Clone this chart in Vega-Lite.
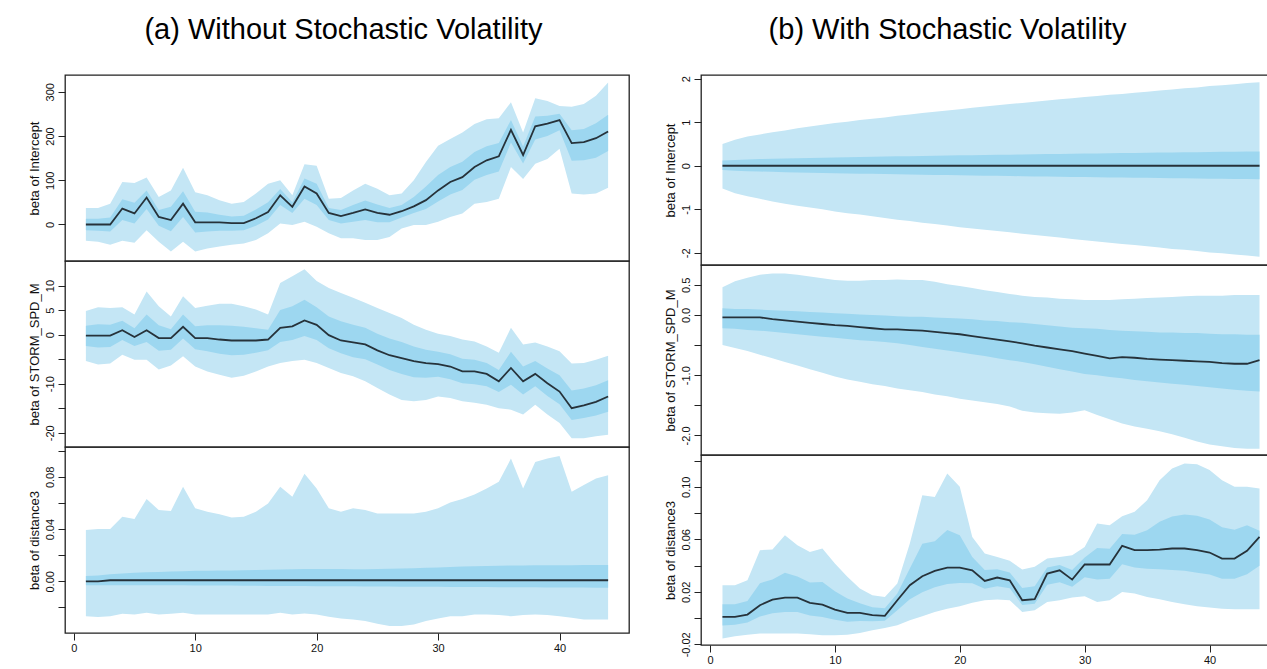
{
  "$schema": "https://vega.github.io/schema/vega-lite/v6.json",
  "padding": {"left": 27, "top": 16, "right": 0, "bottom": 0},
  "background": "white",
  "datasets": {
    "a1": [
      {"x":1,"m":0,"lo":-37,"hi":37,"ilo":-13,"ihi":13},
      {"x":2,"m":0,"lo":-39,"hi":37,"ilo":-14,"ihi":13},
      {"x":3,"m":0,"lo":-46,"hi":47,"ilo":-16,"ihi":16},
      {"x":4,"m":36,"lo":-37,"hi":96,"ilo":10,"ihi":57},
      {"x":5,"m":25,"lo":-41,"hi":94,"ilo":2,"ihi":49},
      {"x":6,"m":61,"lo":-13,"hi":106,"ilo":35,"ihi":77},
      {"x":7,"m":17,"lo":-39,"hi":62,"ilo":-3,"ihi":33},
      {"x":8,"m":10,"lo":-61,"hi":77,"ilo":-15,"ihi":40},
      {"x":9,"m":47,"lo":-39,"hi":128,"ilo":17,"ihi":75},
      {"x":10,"m":5,"lo":-61,"hi":73,"ilo":-18,"ihi":29},
      {"x":11,"m":5,"lo":-54,"hi":66,"ilo":-16,"ihi":27},
      {"x":12,"m":5,"lo":-50,"hi":55,"ilo":-14,"ihi":22},
      {"x":13,"m":3,"lo":-46,"hi":47,"ilo":-14,"ihi":18},
      {"x":14,"m":3,"lo":-43,"hi":51,"ilo":-13,"ihi":20},
      {"x":15,"m":14,"lo":-35,"hi":70,"ilo":-3,"ihi":34},
      {"x":16,"m":28,"lo":-20,"hi":92,"ilo":11,"ihi":50},
      {"x":17,"m":66,"lo":2,"hi":100,"ilo":44,"ihi":80},
      {"x":18,"m":40,"lo":-1,"hi":66,"ilo":26,"ihi":50},
      {"x":19,"m":86,"lo":6,"hi":136,"ilo":58,"ihi":104},
      {"x":20,"m":70,"lo":-5,"hi":133,"ilo":44,"ihi":92},
      {"x":21,"m":26,"lo":-20,"hi":58,"ilo":10,"ihi":37},
      {"x":22,"m":19,"lo":-31,"hi":60,"ilo":2,"ihi":33},
      {"x":23,"m":26,"lo":-31,"hi":77,"ilo":6,"ihi":44},
      {"x":24,"m":34,"lo":-35,"hi":92,"ilo":10,"ihi":54},
      {"x":25,"m":26,"lo":-35,"hi":81,"ilo":5,"ihi":45},
      {"x":26,"m":22,"lo":-28,"hi":66,"ilo":5,"ihi":37},
      {"x":27,"m":30,"lo":-9,"hi":70,"ilo":16,"ihi":44},
      {"x":28,"m":41,"lo":-1,"hi":100,"ilo":26,"ihi":62},
      {"x":29,"m":55,"lo":-1,"hi":141,"ilo":35,"ihi":86},
      {"x":30,"m":77,"lo":6,"hi":178,"ilo":52,"ihi":112},
      {"x":31,"m":96,"lo":17,"hi":193,"ilo":68,"ihi":130},
      {"x":32,"m":107,"lo":25,"hi":208,"ilo":78,"ihi":142},
      {"x":33,"m":130,"lo":47,"hi":227,"ilo":101,"ihi":164},
      {"x":34,"m":145,"lo":51,"hi":238,"ilo":112,"ihi":177},
      {"x":35,"m":154,"lo":58,"hi":240,"ilo":120,"ihi":184},
      {"x":36,"m":214,"lo":130,"hi":276,"ilo":185,"ihi":236},
      {"x":37,"m":157,"lo":103,"hi":208,"ilo":138,"ihi":176},
      {"x":38,"m":222,"lo":137,"hi":285,"ilo":192,"ihi":244},
      {"x":39,"m":228,"lo":148,"hi":279,"ilo":200,"ihi":246},
      {"x":40,"m":236,"lo":171,"hi":268,"ilo":213,"ihi":250},
      {"x":41,"m":184,"lo":70,"hi":266,"ilo":144,"ihi":213},
      {"x":42,"m":186,"lo":68,"hi":272,"ilo":145,"ihi":216},
      {"x":43,"m":195,"lo":70,"hi":291,"ilo":151,"ihi":229},
      {"x":44,"m":210,"lo":83,"hi":321,"ilo":166,"ihi":248}
    ],
    "a2": [
      {"x":1,"m":-0.2,"lo":-5.4,"hi":4.8,"ilo":-2.3,"ihi":1.8},
      {"x":2,"m":-0.2,"lo":-6.1,"hi":5.6,"ilo":-2.6,"ihi":2.1},
      {"x":3,"m":-0.2,"lo":-5.9,"hi":5.4,"ilo":-2.5,"ihi":2.0},
      {"x":4,"m":0.9,"lo":-4.1,"hi":5.6,"ilo":-1.1,"ihi":2.8},
      {"x":5,"m":-0.5,"lo":-5.1,"hi":4.1,"ilo":-2.3,"ihi":1.3},
      {"x":6,"m":0.9,"lo":-5.1,"hi":8.8,"ilo":-1.5,"ihi":4.1},
      {"x":7,"m":-0.7,"lo":-7.1,"hi":5.8,"ilo":-3.3,"ihi":1.9},
      {"x":8,"m":-0.7,"lo":-6.3,"hi":3.7,"ilo":-3.1,"ihi":1.1},
      {"x":9,"m":1.6,"lo":-4.4,"hi":7.8,"ilo":-0.8,"ihi":4.1},
      {"x":10,"m":-0.7,"lo":-6.5,"hi":5.4,"ilo":-3.0,"ihi":1.7},
      {"x":11,"m":-0.7,"lo":-7.5,"hi":5.9,"ilo":-3.4,"ihi":1.9},
      {"x":12,"m":-1.0,"lo":-8.2,"hi":6.3,"ilo":-3.9,"ihi":1.9},
      {"x":13,"m":-1.2,"lo":-8.8,"hi":6.3,"ilo":-4.2,"ihi":1.8},
      {"x":14,"m":-1.2,"lo":-8.4,"hi":5.8,"ilo":-4.1,"ihi":1.6},
      {"x":15,"m":-1.2,"lo":-7.5,"hi":5.1,"ilo":-3.7,"ihi":1.3},
      {"x":16,"m":-1.0,"lo":-6.5,"hi":4.1,"ilo":-3.2,"ihi":1.0},
      {"x":17,"m":1.4,"lo":-5.8,"hi":10.5,"ilo":-1.5,"ihi":5.0},
      {"x":18,"m":1.7,"lo":-5.4,"hi":11.9,"ilo":-1.1,"ihi":5.8},
      {"x":19,"m":2.9,"lo":-5.1,"hi":13.3,"ilo":-0.3,"ihi":7.1},
      {"x":20,"m":2.0,"lo":-5.8,"hi":10.9,"ilo":-1.1,"ihi":5.6},
      {"x":21,"m":-0.1,"lo":-6.8,"hi":9.5,"ilo":-2.8,"ihi":3.7},
      {"x":22,"m":-1.2,"lo":-7.8,"hi":8.5,"ilo":-3.8,"ihi":2.7},
      {"x":23,"m":-1.6,"lo":-8.5,"hi":7.5,"ilo":-4.6,"ihi":2.0},
      {"x":24,"m":-2.0,"lo":-9.5,"hi":6.5,"ilo":-5.0,"ihi":1.4},
      {"x":25,"m":-3.2,"lo":-10.9,"hi":5.4,"ilo":-6.1,"ihi":0.2},
      {"x":26,"m":-4.2,"lo":-12.2,"hi":4.4,"ilo":-7.2,"ihi":-0.8},
      {"x":27,"m":-4.8,"lo":-13.3,"hi":3.4,"ilo":-8.0,"ihi":-1.5},
      {"x":28,"m":-5.4,"lo":-13.6,"hi":2.0,"ilo":-8.7,"ihi":-2.4},
      {"x":29,"m":-5.8,"lo":-13.3,"hi":1.0,"ilo":-8.8,"ihi":-3.1},
      {"x":30,"m":-6.0,"lo":-12.6,"hi":0.2,"ilo":-8.6,"ihi":-3.5},
      {"x":31,"m":-6.5,"lo":-12.9,"hi":-0.3,"ilo":-9.1,"ihi":-4.0},
      {"x":32,"m":-7.5,"lo":-13.6,"hi":-1.0,"ilo":-9.9,"ihi":-4.9},
      {"x":33,"m":-7.5,"lo":-13.9,"hi":-1.4,"ilo":-10.1,"ihi":-5.1},
      {"x":34,"m":-8.0,"lo":-14.3,"hi":-2.4,"ilo":-10.5,"ihi":-5.8},
      {"x":35,"m":-9.5,"lo":-15.0,"hi":-3.7,"ilo":-11.7,"ihi":-7.2},
      {"x":36,"m":-6.8,"lo":-15.3,"hi":1.4,"ilo":-10.2,"ihi":-3.5},
      {"x":37,"m":-9.5,"lo":-16.3,"hi":-2.0,"ilo":-12.2,"ihi":-6.5},
      {"x":38,"m":-8.0,"lo":-14.3,"hi":-1.6,"ilo":-10.5,"ihi":-5.4},
      {"x":39,"m":-9.9,"lo":-16.3,"hi":-2.4,"ilo":-12.5,"ihi":-6.9},
      {"x":40,"m":-11.6,"lo":-18.0,"hi":-3.4,"ilo":-14.2,"ihi":-8.3},
      {"x":41,"m":-15.0,"lo":-21.1,"hi":-5.9,"ilo":-17.4,"ihi":-11.4},
      {"x":42,"m":-14.4,"lo":-21.1,"hi":-5.8,"ilo":-17.0,"ihi":-11.0},
      {"x":43,"m":-13.7,"lo":-20.7,"hi":-5.1,"ilo":-16.5,"ihi":-10.3},
      {"x":44,"m":-12.6,"lo":-20.4,"hi":-4.3,"ilo":-15.7,"ihi":-9.3}
    ],
    "a3": [
      {"x":1,"m":0.0,"lo":-0.0267,"hi":0.0394,"ilo":-0.003,"ihi":0.004},
      {"x":2,"m":0.0,"lo":-0.0274,"hi":0.040,"ilo":-0.003,"ihi":0.0045},
      {"x":3,"m":0.0008,"lo":-0.0267,"hi":0.040,"ilo":-0.003,"ihi":0.0055},
      {"x":4,"m":0.0008,"lo":-0.0249,"hi":0.0495,"ilo":-0.003,"ihi":0.006},
      {"x":5,"m":0.0008,"lo":-0.0254,"hi":0.0478,"ilo":-0.003,"ihi":0.0065},
      {"x":6,"m":0.0008,"lo":-0.0241,"hi":0.063,"ilo":-0.003,"ihi":0.007},
      {"x":7,"m":0.0008,"lo":-0.0254,"hi":0.0546,"ilo":-0.003,"ihi":0.0072},
      {"x":8,"m":0.0008,"lo":-0.0249,"hi":0.0538,"ilo":-0.003,"ihi":0.0075},
      {"x":9,"m":0.0008,"lo":-0.0241,"hi":0.0724,"ilo":-0.003,"ihi":0.0078},
      {"x":10,"m":0.0008,"lo":-0.0254,"hi":0.0559,"ilo":-0.0032,"ihi":0.008},
      {"x":11,"m":0.0008,"lo":-0.0254,"hi":0.0533,"ilo":-0.0032,"ihi":0.008},
      {"x":12,"m":0.0008,"lo":-0.0254,"hi":0.0513,"ilo":-0.0033,"ihi":0.0082},
      {"x":13,"m":0.0008,"lo":-0.0254,"hi":0.0488,"ilo":-0.0033,"ihi":0.0083},
      {"x":14,"m":0.0008,"lo":-0.0254,"hi":0.0495,"ilo":-0.0034,"ihi":0.0085},
      {"x":15,"m":0.0008,"lo":-0.0254,"hi":0.0533,"ilo":-0.0034,"ihi":0.0087},
      {"x":16,"m":0.0008,"lo":-0.0254,"hi":0.0597,"ilo":-0.0035,"ihi":0.0089},
      {"x":17,"m":0.0008,"lo":-0.0241,"hi":0.0724,"ilo":-0.0035,"ihi":0.009},
      {"x":18,"m":0.0008,"lo":-0.0254,"hi":0.0648,"ilo":-0.0036,"ihi":0.0092},
      {"x":19,"m":0.0008,"lo":-0.0246,"hi":0.0825,"ilo":-0.0036,"ihi":0.0094},
      {"x":20,"m":0.0008,"lo":-0.0254,"hi":0.0711,"ilo":-0.0037,"ihi":0.0095},
      {"x":21,"m":0.0008,"lo":-0.0272,"hi":0.0559,"ilo":-0.0037,"ihi":0.0095},
      {"x":22,"m":0.0008,"lo":-0.0284,"hi":0.0533,"ilo":-0.0038,"ihi":0.0094},
      {"x":23,"m":0.0008,"lo":-0.0292,"hi":0.0559,"ilo":-0.0038,"ihi":0.0093},
      {"x":24,"m":0.0008,"lo":-0.0305,"hi":0.0546,"ilo":-0.0039,"ihi":0.0093},
      {"x":25,"m":0.0008,"lo":-0.0325,"hi":0.052,"ilo":-0.004,"ihi":0.0094},
      {"x":26,"m":0.0008,"lo":-0.0343,"hi":0.052,"ilo":-0.004,"ihi":0.0096},
      {"x":27,"m":0.0008,"lo":-0.0343,"hi":0.052,"ilo":-0.0041,"ihi":0.0098},
      {"x":28,"m":0.0008,"lo":-0.033,"hi":0.052,"ilo":-0.0041,"ihi":0.01},
      {"x":29,"m":0.0008,"lo":-0.0305,"hi":0.0533,"ilo":-0.0042,"ihi":0.0103},
      {"x":30,"m":0.0008,"lo":-0.0284,"hi":0.0559,"ilo":-0.0042,"ihi":0.0106},
      {"x":31,"m":0.0008,"lo":-0.0267,"hi":0.0604,"ilo":-0.0043,"ihi":0.011},
      {"x":32,"m":0.0008,"lo":-0.0267,"hi":0.063,"ilo":-0.0043,"ihi":0.0113},
      {"x":33,"m":0.0008,"lo":-0.0254,"hi":0.0665,"ilo":-0.0044,"ihi":0.0116},
      {"x":34,"m":0.0008,"lo":-0.0254,"hi":0.0711,"ilo":-0.0044,"ihi":0.0118},
      {"x":35,"m":0.0008,"lo":-0.0259,"hi":0.0762,"ilo":-0.0045,"ihi":0.012},
      {"x":36,"m":0.0008,"lo":-0.0267,"hi":0.094,"ilo":-0.0045,"ihi":0.0122},
      {"x":37,"m":0.0008,"lo":-0.0259,"hi":0.0711,"ilo":-0.0046,"ihi":0.0122},
      {"x":38,"m":0.0008,"lo":-0.0254,"hi":0.0914,"ilo":-0.0046,"ihi":0.0123},
      {"x":39,"m":0.0008,"lo":-0.0259,"hi":0.094,"ilo":-0.0047,"ihi":0.0124},
      {"x":40,"m":0.0008,"lo":-0.0267,"hi":0.096,"ilo":-0.0047,"ihi":0.0124},
      {"x":41,"m":0.0008,"lo":-0.0279,"hi":0.0686,"ilo":-0.0048,"ihi":0.0124},
      {"x":42,"m":0.0008,"lo":-0.0292,"hi":0.0737,"ilo":-0.0048,"ihi":0.0125},
      {"x":43,"m":0.0008,"lo":-0.0292,"hi":0.0787,"ilo":-0.0049,"ihi":0.0125},
      {"x":44,"m":0.0008,"lo":-0.0292,"hi":0.0813,"ilo":-0.005,"ihi":0.0125}
    ],
    "b1": [
      {"x":1,"m":0,"lo":-0.52,"hi":0.50,"ilo":-0.1,"ihi":0.12},
      {"x":2,"m":0,"lo":-0.63,"hi":0.60,"ilo":-0.115,"ihi":0.135},
      {"x":3,"m":0,"lo":-0.70,"hi":0.67,"ilo":-0.125,"ihi":0.145},
      {"x":4,"m":0,"lo":-0.76,"hi":0.72,"ilo":-0.133,"ihi":0.153},
      {"x":5,"m":0,"lo":-0.82,"hi":0.77,"ilo":-0.14,"ihi":0.16},
      {"x":6,"m":0,"lo":-0.87,"hi":0.81,"ilo":-0.147,"ihi":0.167},
      {"x":7,"m":0,"lo":-0.92,"hi":0.86,"ilo":-0.153,"ihi":0.173},
      {"x":8,"m":0,"lo":-0.96,"hi":0.90,"ilo":-0.159,"ihi":0.179},
      {"x":9,"m":0,"lo":-1.00,"hi":0.94,"ilo":-0.165,"ihi":0.185},
      {"x":10,"m":0,"lo":-1.05,"hi":0.98,"ilo":-0.17,"ihi":0.19},
      {"x":11,"m":0,"lo":-1.09,"hi":1.01,"ilo":-0.176,"ihi":0.196},
      {"x":12,"m":0,"lo":-1.12,"hi":1.05,"ilo":-0.181,"ihi":0.201},
      {"x":13,"m":0,"lo":-1.16,"hi":1.08,"ilo":-0.186,"ihi":0.206},
      {"x":14,"m":0,"lo":-1.20,"hi":1.11,"ilo":-0.191,"ihi":0.211},
      {"x":15,"m":0,"lo":-1.24,"hi":1.15,"ilo":-0.196,"ihi":0.216},
      {"x":16,"m":0,"lo":-1.27,"hi":1.18,"ilo":-0.2,"ihi":0.22},
      {"x":17,"m":0,"lo":-1.31,"hi":1.21,"ilo":-0.205,"ihi":0.225},
      {"x":18,"m":0,"lo":-1.34,"hi":1.24,"ilo":-0.21,"ihi":0.23},
      {"x":19,"m":0,"lo":-1.37,"hi":1.27,"ilo":-0.214,"ihi":0.234},
      {"x":20,"m":0,"lo":-1.41,"hi":1.30,"ilo":-0.219,"ihi":0.239},
      {"x":21,"m":0,"lo":-1.44,"hi":1.33,"ilo":-0.223,"ihi":0.243},
      {"x":22,"m":0,"lo":-1.47,"hi":1.36,"ilo":-0.227,"ihi":0.247},
      {"x":23,"m":0,"lo":-1.50,"hi":1.39,"ilo":-0.231,"ihi":0.251},
      {"x":24,"m":0,"lo":-1.53,"hi":1.42,"ilo":-0.235,"ihi":0.255},
      {"x":25,"m":0,"lo":-1.56,"hi":1.44,"ilo":-0.24,"ihi":0.26},
      {"x":26,"m":0,"lo":-1.59,"hi":1.47,"ilo":-0.244,"ihi":0.264},
      {"x":27,"m":0,"lo":-1.62,"hi":1.50,"ilo":-0.248,"ihi":0.268},
      {"x":28,"m":0,"lo":-1.65,"hi":1.53,"ilo":-0.252,"ihi":0.272},
      {"x":29,"m":0,"lo":-1.68,"hi":1.55,"ilo":-0.256,"ihi":0.276},
      {"x":30,"m":0,"lo":-1.71,"hi":1.58,"ilo":-0.259,"ihi":0.279},
      {"x":31,"m":0,"lo":-1.74,"hi":1.60,"ilo":-0.263,"ihi":0.283},
      {"x":32,"m":0,"lo":-1.77,"hi":1.63,"ilo":-0.267,"ihi":0.287},
      {"x":33,"m":0,"lo":-1.80,"hi":1.65,"ilo":-0.271,"ihi":0.291},
      {"x":34,"m":0,"lo":-1.82,"hi":1.68,"ilo":-0.275,"ihi":0.295},
      {"x":35,"m":0,"lo":-1.85,"hi":1.70,"ilo":-0.278,"ihi":0.298},
      {"x":36,"m":0,"lo":-1.88,"hi":1.73,"ilo":-0.282,"ihi":0.302},
      {"x":37,"m":0,"lo":-1.91,"hi":1.75,"ilo":-0.285,"ihi":0.305},
      {"x":38,"m":0,"lo":-1.93,"hi":1.78,"ilo":-0.289,"ihi":0.309},
      {"x":39,"m":0,"lo":-1.96,"hi":1.80,"ilo":-0.293,"ihi":0.313},
      {"x":40,"m":0,"lo":-1.99,"hi":1.83,"ilo":-0.296,"ihi":0.316},
      {"x":41,"m":0,"lo":-2.01,"hi":1.85,"ilo":-0.3,"ihi":0.32},
      {"x":42,"m":0,"lo":-2.04,"hi":1.87,"ilo":-0.303,"ihi":0.323},
      {"x":43,"m":0,"lo":-2.06,"hi":1.90,"ilo":-0.307,"ihi":0.327},
      {"x":44,"m":0,"lo":-2.09,"hi":1.92,"ilo":-0.31,"ihi":0.33}
    ],
    "b2": [
      {"x":1,"m":-0.04,"lo":-0.50,"hi":0.46,"ilo":-0.22,"ihi":0.11},
      {"x":2,"m":-0.04,"lo":-0.55,"hi":0.56,"ilo":-0.23,"ihi":0.10},
      {"x":3,"m":-0.04,"lo":-0.60,"hi":0.62,"ilo":-0.25,"ihi":0.10},
      {"x":4,"m":-0.04,"lo":-0.66,"hi":0.67,"ilo":-0.26,"ihi":0.09},
      {"x":5,"m":-0.07,"lo":-0.72,"hi":0.69,"ilo":-0.28,"ihi":0.08},
      {"x":6,"m":-0.09,"lo":-0.78,"hi":0.69,"ilo":-0.30,"ihi":0.07},
      {"x":7,"m":-0.11,"lo":-0.84,"hi":0.67,"ilo":-0.32,"ihi":0.06},
      {"x":8,"m":-0.13,"lo":-0.90,"hi":0.64,"ilo":-0.34,"ihi":0.05},
      {"x":9,"m":-0.15,"lo":-0.96,"hi":0.61,"ilo":-0.36,"ihi":0.04},
      {"x":10,"m":-0.17,"lo":-1.02,"hi":0.58,"ilo":-0.38,"ihi":0.03},
      {"x":11,"m":-0.18,"lo":-1.07,"hi":0.57,"ilo":-0.40,"ihi":0.02},
      {"x":12,"m":-0.20,"lo":-1.11,"hi":0.57,"ilo":-0.42,"ihi":0.01},
      {"x":13,"m":-0.22,"lo":-1.15,"hi":0.58,"ilo":-0.43,"ihi":0.00},
      {"x":14,"m":-0.24,"lo":-1.18,"hi":0.58,"ilo":-0.45,"ihi":-0.01},
      {"x":15,"m":-0.24,"lo":-1.22,"hi":0.59,"ilo":-0.47,"ihi":-0.02},
      {"x":16,"m":-0.25,"lo":-1.25,"hi":0.58,"ilo":-0.50,"ihi":-0.03},
      {"x":17,"m":-0.26,"lo":-1.28,"hi":0.58,"ilo":-0.53,"ihi":-0.03},
      {"x":18,"m":-0.28,"lo":-1.32,"hi":0.55,"ilo":-0.56,"ihi":-0.04},
      {"x":19,"m":-0.30,"lo":-1.35,"hi":0.51,"ilo":-0.59,"ihi":-0.05},
      {"x":20,"m":-0.32,"lo":-1.39,"hi":0.48,"ilo":-0.62,"ihi":-0.06},
      {"x":21,"m":-0.35,"lo":-1.42,"hi":0.45,"ilo":-0.65,"ihi":-0.07},
      {"x":22,"m":-0.38,"lo":-1.45,"hi":0.41,"ilo":-0.68,"ihi":-0.09},
      {"x":23,"m":-0.41,"lo":-1.48,"hi":0.38,"ilo":-0.72,"ihi":-0.10},
      {"x":24,"m":-0.44,"lo":-1.52,"hi":0.35,"ilo":-0.75,"ihi":-0.12},
      {"x":25,"m":-0.47,"lo":-1.59,"hi":0.32,"ilo":-0.78,"ihi":-0.13},
      {"x":26,"m":-0.51,"lo":-1.62,"hi":0.30,"ilo":-0.82,"ihi":-0.15},
      {"x":27,"m":-0.54,"lo":-1.63,"hi":0.29,"ilo":-0.86,"ihi":-0.17},
      {"x":28,"m":-0.57,"lo":-1.64,"hi":0.27,"ilo":-0.90,"ihi":-0.19},
      {"x":29,"m":-0.60,"lo":-1.62,"hi":0.26,"ilo":-0.94,"ihi":-0.21},
      {"x":30,"m":-0.64,"lo":-1.58,"hi":0.25,"ilo":-0.98,"ihi":-0.22},
      {"x":31,"m":-0.68,"lo":-1.66,"hi":0.25,"ilo":-1.00,"ihi":-0.23},
      {"x":32,"m":-0.72,"lo":-1.73,"hi":0.25,"ilo":-1.03,"ihi":-0.25},
      {"x":33,"m":-0.70,"lo":-1.80,"hi":0.26,"ilo":-1.05,"ihi":-0.26},
      {"x":34,"m":-0.71,"lo":-1.85,"hi":0.27,"ilo":-1.08,"ihi":-0.27},
      {"x":35,"m":-0.73,"lo":-1.89,"hi":0.28,"ilo":-1.10,"ihi":-0.28},
      {"x":36,"m":-0.74,"lo":-1.93,"hi":0.29,"ilo":-1.12,"ihi":-0.29},
      {"x":37,"m":-0.75,"lo":-1.98,"hi":0.30,"ilo":-1.14,"ihi":-0.29},
      {"x":38,"m":-0.76,"lo":-2.04,"hi":0.31,"ilo":-1.16,"ihi":-0.30},
      {"x":39,"m":-0.77,"lo":-2.10,"hi":0.32,"ilo":-1.18,"ihi":-0.30},
      {"x":40,"m":-0.78,"lo":-2.15,"hi":0.32,"ilo":-1.20,"ihi":-0.31},
      {"x":41,"m":-0.80,"lo":-2.18,"hi":0.32,"ilo":-1.22,"ihi":-0.32},
      {"x":42,"m":-0.81,"lo":-2.21,"hi":0.33,"ilo":-1.24,"ihi":-0.32},
      {"x":43,"m":-0.81,"lo":-2.22,"hi":0.33,"ilo":-1.26,"ihi":-0.33},
      {"x":44,"m":-0.75,"lo":-2.22,"hi":0.33,"ilo":-1.27,"ihi":-0.33}
    ],
    "b3": [
      {"x":1,"m":0.0009,"lo":-0.0156,"hi":0.025,"ilo":-0.0057,"ihi":0.0105},
      {"x":2,"m":0.0009,"lo":-0.0138,"hi":0.025,"ilo":-0.005,"ihi":0.0105},
      {"x":3,"m":0.0027,"lo":-0.0126,"hi":0.0288,"ilo":-0.0034,"ihi":0.0131},
      {"x":4,"m":0.0098,"lo":-0.0118,"hi":0.0517,"ilo":0.0012,"ihi":0.0266},
      {"x":5,"m":0.0141,"lo":-0.0118,"hi":0.0522,"ilo":0.0037,"ihi":0.0293},
      {"x":6,"m":0.0156,"lo":-0.0118,"hi":0.0631,"ilo":0.0046,"ihi":0.0346},
      {"x":7,"m":0.0156,"lo":-0.0118,"hi":0.0555,"ilo":0.0046,"ihi":0.0316},
      {"x":8,"m":0.0116,"lo":-0.0123,"hi":0.0504,"ilo":0.002,"ihi":0.0271},
      {"x":9,"m":0.0103,"lo":-0.0131,"hi":0.053,"ilo":0.0009,"ihi":0.0274},
      {"x":10,"m":0.0065,"lo":-0.0131,"hi":0.0415,"ilo":-0.0013,"ihi":0.0205},
      {"x":11,"m":0.0039,"lo":-0.0126,"hi":0.0314,"ilo":-0.0027,"ihi":0.0149},
      {"x":12,"m":0.0039,"lo":-0.0113,"hi":0.0225,"ilo":-0.0022,"ihi":0.0113},
      {"x":13,"m":0.0022,"lo":-0.0093,"hi":0.0174,"ilo":-0.0024,"ihi":0.0083},
      {"x":14,"m":0.0017,"lo":-0.0075,"hi":0.0161,"ilo":-0.002,"ihi":0.0075},
      {"x":15,"m":0.0136,"lo":-0.0055,"hi":0.0263,"ilo":0.006,"ihi":0.0187},
      {"x":16,"m":0.025,"lo":-0.0017,"hi":0.0568,"ilo":0.0143,"ihi":0.0377},
      {"x":17,"m":0.0319,"lo":0.0014,"hi":0.0936,"ilo":0.0197,"ihi":0.0566},
      {"x":18,"m":0.036,"lo":0.0047,"hi":0.0923,"ilo":0.0235,"ihi":0.0585},
      {"x":19,"m":0.0385,"lo":0.0072,"hi":0.1101,"ilo":0.026,"ihi":0.0671},
      {"x":20,"m":0.0385,"lo":0.009,"hi":0.1,"ilo":0.0267,"ihi":0.0631},
      {"x":21,"m":0.0364,"lo":0.0116,"hi":0.0618,"ilo":0.0265,"ihi":0.0466},
      {"x":22,"m":0.0283,"lo":0.0136,"hi":0.0491,"ilo":0.0224,"ihi":0.0366},
      {"x":23,"m":0.0309,"lo":0.0141,"hi":0.0466,"ilo":0.0242,"ihi":0.0372},
      {"x":24,"m":0.0288,"lo":0.0136,"hi":0.0436,"ilo":0.0227,"ihi":0.0347},
      {"x":25,"m":0.0136,"lo":0.0047,"hi":0.037,"ilo":0.01,"ihi":0.023},
      {"x":26,"m":0.0144,"lo":0.006,"hi":0.039,"ilo":0.011,"ihi":0.0242},
      {"x":27,"m":0.0339,"lo":0.0123,"hi":0.0453,"ilo":0.0253,"ihi":0.0385},
      {"x":28,"m":0.0364,"lo":0.0136,"hi":0.0466,"ilo":0.0273,"ihi":0.0405},
      {"x":29,"m":0.0293,"lo":0.0156,"hi":0.0479,"ilo":0.0238,"ihi":0.0367},
      {"x":30,"m":0.0408,"lo":0.0166,"hi":0.0542,"ilo":0.0311,"ihi":0.0462},
      {"x":31,"m":0.0408,"lo":0.0123,"hi":0.072,"ilo":0.0294,"ihi":0.0533},
      {"x":32,"m":0.0408,"lo":0.0136,"hi":0.0707,"ilo":0.0299,"ihi":0.0528},
      {"x":33,"m":0.055,"lo":0.0199,"hi":0.0776,"ilo":0.041,"ihi":0.064},
      {"x":34,"m":0.0517,"lo":0.0187,"hi":0.0809,"ilo":0.0385,"ihi":0.0634},
      {"x":35,"m":0.0517,"lo":0.0161,"hi":0.0898,"ilo":0.0375,"ihi":0.0669},
      {"x":36,"m":0.0522,"lo":0.0144,"hi":0.105,"ilo":0.0371,"ihi":0.0733},
      {"x":37,"m":0.053,"lo":0.0123,"hi":0.1139,"ilo":0.0367,"ihi":0.0774},
      {"x":38,"m":0.053,"lo":0.0105,"hi":0.1177,"ilo":0.036,"ihi":0.0789},
      {"x":39,"m":0.0517,"lo":0.009,"hi":0.1172,"ilo":0.0346,"ihi":0.0779},
      {"x":40,"m":0.0499,"lo":0.008,"hi":0.1127,"ilo":0.0331,"ihi":0.075},
      {"x":41,"m":0.0453,"lo":0.0072,"hi":0.105,"ilo":0.03,"ihi":0.0692},
      {"x":42,"m":0.0453,"lo":0.0067,"hi":0.1,"ilo":0.0299,"ihi":0.0672},
      {"x":43,"m":0.0512,"lo":0.0067,"hi":0.1,"ilo":0.0334,"ihi":0.0707},
      {"x":44,"m":0.0618,"lo":0.0067,"hi":0.0987,"ilo":0.0398,"ihi":0.0666}
    ]
  },
  "hconcat": [
    {
      "title": {"text": "(a) Without Stochastic Volatility", "offset": 29, "dx": 15},
      "spacing": 0,
      "bounds": "flush",
      "vconcat": [
        {
          "width": 564, "height": 186, "data": {"name": "a1"},
          "encoding": {"x": {"field": "x", "type": "quantitative", "scale": {"domain": [-0.72, 45.72], "nice": false, "zero": false}, "axis": null}},
          "layer": [
            {"mark": {"type": "area", "color": "#c4e6f5", "opacity": 1}, "encoding": {"y": {"field": "lo", "type": "quantitative", "scale": {"domain": [-82.5, 337.8], "nice": false, "zero": false}, "axis": {"title": "beta of Intercept", "values": [0, 100, 200, 300]}}, "y2": {"field": "hi"}}},
            {"mark": {"type": "area", "color": "#9dd7f0", "opacity": 1}, "encoding": {"y": {"field": "ilo", "type": "quantitative"}, "y2": {"field": "ihi"}}},
            {"mark": {"type": "rule", "color": "#aaaaaa", "strokeDash": [4, 4], "strokeWidth": 1}, "encoding": {"y": {"datum": 0}}},
            {"mark": {"type": "line", "color": "#26323a", "strokeWidth": 1.8}, "encoding": {"y": {"field": "m", "type": "quantitative"}}}
          ]
        },
        {
          "width": 564, "height": 186, "data": {"name": "a2"},
          "encoding": {"x": {"field": "x", "type": "quantitative", "scale": {"domain": [-0.72, 45.72], "nice": false, "zero": false}, "axis": null}},
          "layer": [
            {"mark": {"type": "area", "color": "#c4e6f5", "opacity": 1}, "encoding": {"y": {"field": "lo", "type": "quantitative", "scale": {"domain": [-22.9, 15.0], "nice": false, "zero": false}, "axis": {"title": "beta of STORM_SPD_M", "values": [-20, -15, -10, -5, 0, 5, 10], "labelExpr": "datum.value == -5 || datum.value == -15 ? '' : (datum.value < 0 ? '-' + format(-datum.value, 'd') : format(datum.value, 'd'))"}}, "y2": {"field": "hi"}}},
            {"mark": {"type": "area", "color": "#9dd7f0", "opacity": 1}, "encoding": {"y": {"field": "ilo", "type": "quantitative"}, "y2": {"field": "ihi"}}},
            {"mark": {"type": "rule", "color": "#aaaaaa", "strokeDash": [4, 4], "strokeWidth": 1}, "encoding": {"y": {"datum": 0}}},
            {"mark": {"type": "line", "color": "#26323a", "strokeWidth": 1.8}, "encoding": {"y": {"field": "m", "type": "quantitative"}}}
          ]
        },
        {
          "width": 564, "height": 186, "data": {"name": "a3"},
          "encoding": {"x": {"field": "x", "type": "quantitative", "scale": {"domain": [-0.72, 45.72], "nice": false, "zero": false}, "axis": {"title": null, "values": [0, 10, 20, 30, 40]}}},
          "layer": [
            {"mark": {"type": "area", "color": "#c4e6f5", "opacity": 1}, "encoding": {"y": {"field": "lo", "type": "quantitative", "scale": {"domain": [-0.0396, 0.1029], "nice": false, "zero": false}, "axis": {"title": "beta of distance3", "values": [-0.04, -0.02, 0, 0.02, 0.04, 0.06, 0.08, 0.1], "labelExpr": "abs(round(datum.value * 100)) % 4 != 0 ? '' : (datum.value < 0 ? '-' + format(-datum.value, '.2f') : format(datum.value, '.2f'))"}}, "y2": {"field": "hi"}}},
            {"mark": {"type": "area", "color": "#9dd7f0", "opacity": 1}, "encoding": {"y": {"field": "ilo", "type": "quantitative"}, "y2": {"field": "ihi"}}},
            {"mark": {"type": "rule", "color": "#aaaaaa", "strokeDash": [4, 4], "strokeWidth": 1}, "encoding": {"y": {"datum": 0}}},
            {"mark": {"type": "line", "color": "#26323a", "strokeWidth": 1.8}, "encoding": {"y": {"field": "m", "type": "quantitative"}}}
          ]
        }
      ]
    },
    {
      "title": {"text": "(b) With Stochastic Volatility", "offset": 29, "dx": -25},
      "spacing": 0,
      "bounds": "flush",
      "vconcat": [
        {
          "width": 580, "height": 190, "data": {"name": "b1"},
          "encoding": {"x": {"field": "x", "type": "quantitative", "scale": {"domain": [-0.72, 45.72], "nice": false, "zero": false}, "axis": null}},
          "layer": [
            {"mark": {"type": "area", "color": "#c4e6f5", "opacity": 1}, "encoding": {"y": {"field": "lo", "type": "quantitative", "scale": {"domain": [-2.28, 2.085], "nice": false, "zero": false}, "axis": {"title": "beta of Intercept", "values": [-2, -1, 0, 1, 2], "labelExpr": "datum.value < 0 ? '-' + format(-datum.value, 'd') : format(datum.value, 'd')"}}, "y2": {"field": "hi"}}},
            {"mark": {"type": "area", "color": "#9dd7f0", "opacity": 1}, "encoding": {"y": {"field": "ilo", "type": "quantitative"}, "y2": {"field": "ihi"}}},
            {"mark": {"type": "rule", "color": "#aaaaaa", "strokeDash": [4, 4], "strokeWidth": 1}, "encoding": {"y": {"datum": 0}}},
            {"mark": {"type": "line", "color": "#26323a", "strokeWidth": 1.8}, "encoding": {"y": {"field": "m", "type": "quantitative"}}}
          ]
        },
        {
          "width": 580, "height": 190, "data": {"name": "b2"},
          "encoding": {"x": {"field": "x", "type": "quantitative", "scale": {"domain": [-0.72, 45.72], "nice": false, "zero": false}, "axis": null}},
          "layer": [
            {"mark": {"type": "area", "color": "#c4e6f5", "opacity": 1}, "encoding": {"y": {"field": "lo", "type": "quantitative", "scale": {"domain": [-2.325, 0.83], "nice": false, "zero": false}, "axis": {"title": "beta of STORM_SPD_M", "values": [-2, -1.5, -1, -0.5, 0, 0.5], "labelExpr": "abs(datum.value + 0.5) < 0.01 || abs(datum.value + 1.5) < 0.01 ? '' : (datum.value < 0 ? '-' + format(-datum.value, '.1f') : format(datum.value, '.1f'))"}}, "y2": {"field": "hi"}}},
            {"mark": {"type": "area", "color": "#9dd7f0", "opacity": 1}, "encoding": {"y": {"field": "ilo", "type": "quantitative"}, "y2": {"field": "ihi"}}},
            {"mark": {"type": "rule", "color": "#aaaaaa", "strokeDash": [4, 4], "strokeWidth": 1}, "encoding": {"y": {"datum": 0}}},
            {"mark": {"type": "line", "color": "#26323a", "strokeWidth": 1.8}, "encoding": {"y": {"field": "m", "type": "quantitative"}}}
          ]
        },
        {
          "width": 580, "height": 190, "data": {"name": "b3"},
          "encoding": {"x": {"field": "x", "type": "quantitative", "scale": {"domain": [-0.72, 45.72], "nice": false, "zero": false}, "axis": {"title": null, "values": [0, 10, 20, 30, 40]}}},
          "layer": [
            {"mark": {"type": "area", "color": "#c4e6f5", "opacity": 1}, "encoding": {"y": {"field": "lo", "type": "quantitative", "scale": {"domain": [-0.0205, 0.1242], "nice": false, "zero": false}, "axis": {"title": "beta of distance3", "values": [-0.02, 0, 0.02, 0.04, 0.06, 0.08, 0.1, 0.12], "labelExpr": "abs(round(datum.value * 100)) % 4 != 2 ? '' : (datum.value < 0 ? '-' + format(-datum.value, '.2f') : format(datum.value, '.2f'))"}}, "y2": {"field": "hi"}}},
            {"mark": {"type": "area", "color": "#9dd7f0", "opacity": 1}, "encoding": {"y": {"field": "ilo", "type": "quantitative"}, "y2": {"field": "ihi"}}},
            {"mark": {"type": "rule", "color": "#aaaaaa", "strokeDash": [4, 4], "strokeWidth": 1}, "encoding": {"y": {"datum": 0}}},
            {"mark": {"type": "line", "color": "#26323a", "strokeWidth": 1.8}, "encoding": {"y": {"field": "m", "type": "quantitative"}}}
          ]
        }
      ]
    }
  ],
  "spacing": 33,
  "config": {
    "view": {"stroke": "#222222", "strokeWidth": 1.3},
    "axis": {"grid": false, "domain": false, "tickColor": "#222222", "tickSize": 7, "tickWidth": 1, "tickCount": 30, "labelFont": "Liberation Sans", "labelFontSize": 11, "labelColor": "#111111", "labelPadding": 3, "labelOverlap": false, "labelFlush": false, "titleFont": "Liberation Sans", "titleFontSize": 13, "titleFontWeight": "normal", "titleColor": "#111111"},
    "axisY": {"labelAngle": -90, "labelAlign": "center", "labelBaseline": "bottom", "titlePadding": 3},
    "axisX": {"labelPadding": 2},
    "title": {"font": "Liberation Sans", "fontSize": 29, "fontWeight": "normal", "color": "#000000", "anchor": "middle"}
  }
}
